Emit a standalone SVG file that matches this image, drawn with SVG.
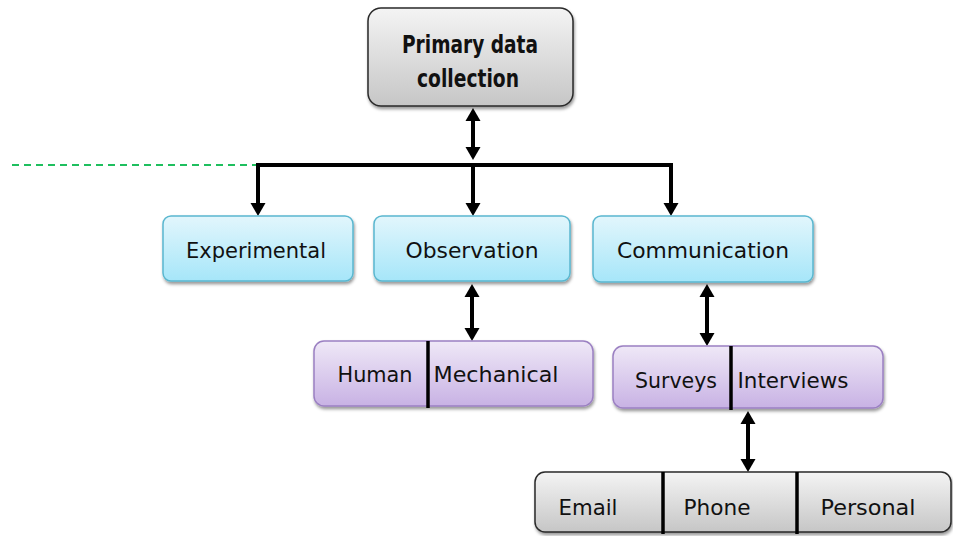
<svg xmlns="http://www.w3.org/2000/svg" width="953" height="536" viewBox="0 0 953 536">
  <defs>
    <linearGradient id="gGray" x1="0" y1="0" x2="0" y2="1">
      <stop offset="0" stop-color="#f4f4f4"/>
      <stop offset="1" stop-color="#c6c6c6"/>
    </linearGradient>
    <linearGradient id="gBlue" x1="0" y1="0" x2="0" y2="1">
      <stop offset="0" stop-color="#e2f6fc"/>
      <stop offset="1" stop-color="#a6e6f9"/>
    </linearGradient>
    <linearGradient id="gPurple" x1="0" y1="0" x2="0" y2="1">
      <stop offset="0" stop-color="#efe8f7"/>
      <stop offset="1" stop-color="#c8b2e4"/>
    </linearGradient>
    <filter id="shadow" x="-10%" y="-20%" width="120%" height="150%">
      <feDropShadow dx="1" dy="2.5" stdDeviation="1.5" flood-color="#000" flood-opacity="0.4"/>
    </filter>
    <marker id="arrow" markerUnits="userSpaceOnUse" markerWidth="15" markerHeight="16" refX="1" refY="8" orient="auto-start-reverse">
      <path d="M0,0.5 L13,8 L0,15.5 z" fill="#000"/>
    </marker>
  </defs>
  <style>
    .gray { fill: url(#gGray); stroke: #2a2a2a; stroke-width: 1.5; filter: url(#shadow); }
    .blue { fill: url(#gBlue); stroke: #5ab7cf; stroke-width: 1.5; filter: url(#shadow); }
    .purple { fill: url(#gPurple); stroke: #9b80c2; stroke-width: 1.5; filter: url(#shadow); }
    .div { stroke: #000; stroke-width: 3.5; }
    .lbl { font-family: "DejaVu Sans", Verdana, sans-serif; font-size: 21px; fill: #111; text-anchor: middle; }
    .title { font-family: "DejaVu Sans", Verdana, sans-serif; font-size: 24px; font-weight: bold; fill: #111; text-anchor: middle; }
    .conn { fill: none; stroke: #000; stroke-width: 4; }
  </style>

  <!-- connectors -->
  <g id="connectors">
    <line x1="12" y1="165" x2="256" y2="165" stroke="#1fbf5f" stroke-width="1.8" stroke-dasharray="7,5"/>
    <path class="conn" d="M258,204 V165 H671 V204" stroke-width="4.5" marker-start="url(#arrow)" marker-end="url(#arrow)" stroke-linejoin="miter"/>
    <path class="conn" d="M473,165 V204" marker-end="url(#arrow)"/>
    <path class="conn" d="M473,120 V148" marker-start="url(#arrow)" marker-end="url(#arrow)"/>
    <path class="conn" d="M472,296 V329" marker-start="url(#arrow)" marker-end="url(#arrow)"/>
    <path class="conn" d="M707,296 V334" marker-start="url(#arrow)" marker-end="url(#arrow)"/>
    <path class="conn" d="M748,423 V460" marker-start="url(#arrow)" marker-end="url(#arrow)"/>
  </g>

  <g id="primary">
    <rect class="gray" x="368" y="8" width="205" height="98" rx="13"/>
    <text class="title" x="470" y="53" textLength="136" lengthAdjust="spacingAndGlyphs">Primary data</text>
    <text class="title" x="468" y="87" textLength="102" lengthAdjust="spacingAndGlyphs">collection</text>
  </g>

  <g id="experimental">
    <rect class="blue" x="163" y="216" width="190" height="65" rx="8"/>
    <text class="lbl" x="256" y="258" textLength="140" lengthAdjust="spacingAndGlyphs">Experimental</text>
  </g>

  <g id="observation">
    <rect class="blue" x="374" y="216" width="196" height="65" rx="8"/>
    <text class="lbl" x="472" y="258" textLength="133" lengthAdjust="spacingAndGlyphs">Observation</text>
  </g>

  <g id="communication">
    <rect class="blue" x="593" y="216" width="220" height="66" rx="8"/>
    <text class="lbl" x="703" y="258" textLength="172" lengthAdjust="spacingAndGlyphs">Communication</text>
  </g>

  <g id="human-mechanical">
    <rect class="purple" x="314" y="341" width="279" height="65" rx="10"/>
    <line class="div" x1="428" y1="341" x2="428" y2="408"/>
    <text class="lbl" x="375" y="382" textLength="75" lengthAdjust="spacingAndGlyphs">Human</text>
    <text class="lbl" x="496" y="382" textLength="125" lengthAdjust="spacingAndGlyphs">Mechanical</text>
  </g>

  <g id="surveys-interviews">
    <rect class="purple" x="613" y="346" width="270" height="62" rx="10"/>
    <line class="div" x1="731" y1="346" x2="731" y2="410"/>
    <text class="lbl" x="676" y="388" textLength="82" lengthAdjust="spacingAndGlyphs">Surveys</text>
    <text class="lbl" x="793" y="388" textLength="111" lengthAdjust="spacingAndGlyphs">Interviews</text>
  </g>

  <g id="email-phone-personal">
    <rect class="gray" x="535" y="472" width="416" height="60" rx="10"/>
    <line class="div" x1="663" y1="472" x2="663" y2="534"/>
    <line class="div" x1="797" y1="472" x2="797" y2="534"/>
    <text class="lbl" x="588" y="515" textLength="59" lengthAdjust="spacingAndGlyphs">Email</text>
    <text class="lbl" x="717" y="515" textLength="67" lengthAdjust="spacingAndGlyphs">Phone</text>
    <text class="lbl" x="868" y="515" textLength="95" lengthAdjust="spacingAndGlyphs">Personal</text>
  </g>
</svg>
